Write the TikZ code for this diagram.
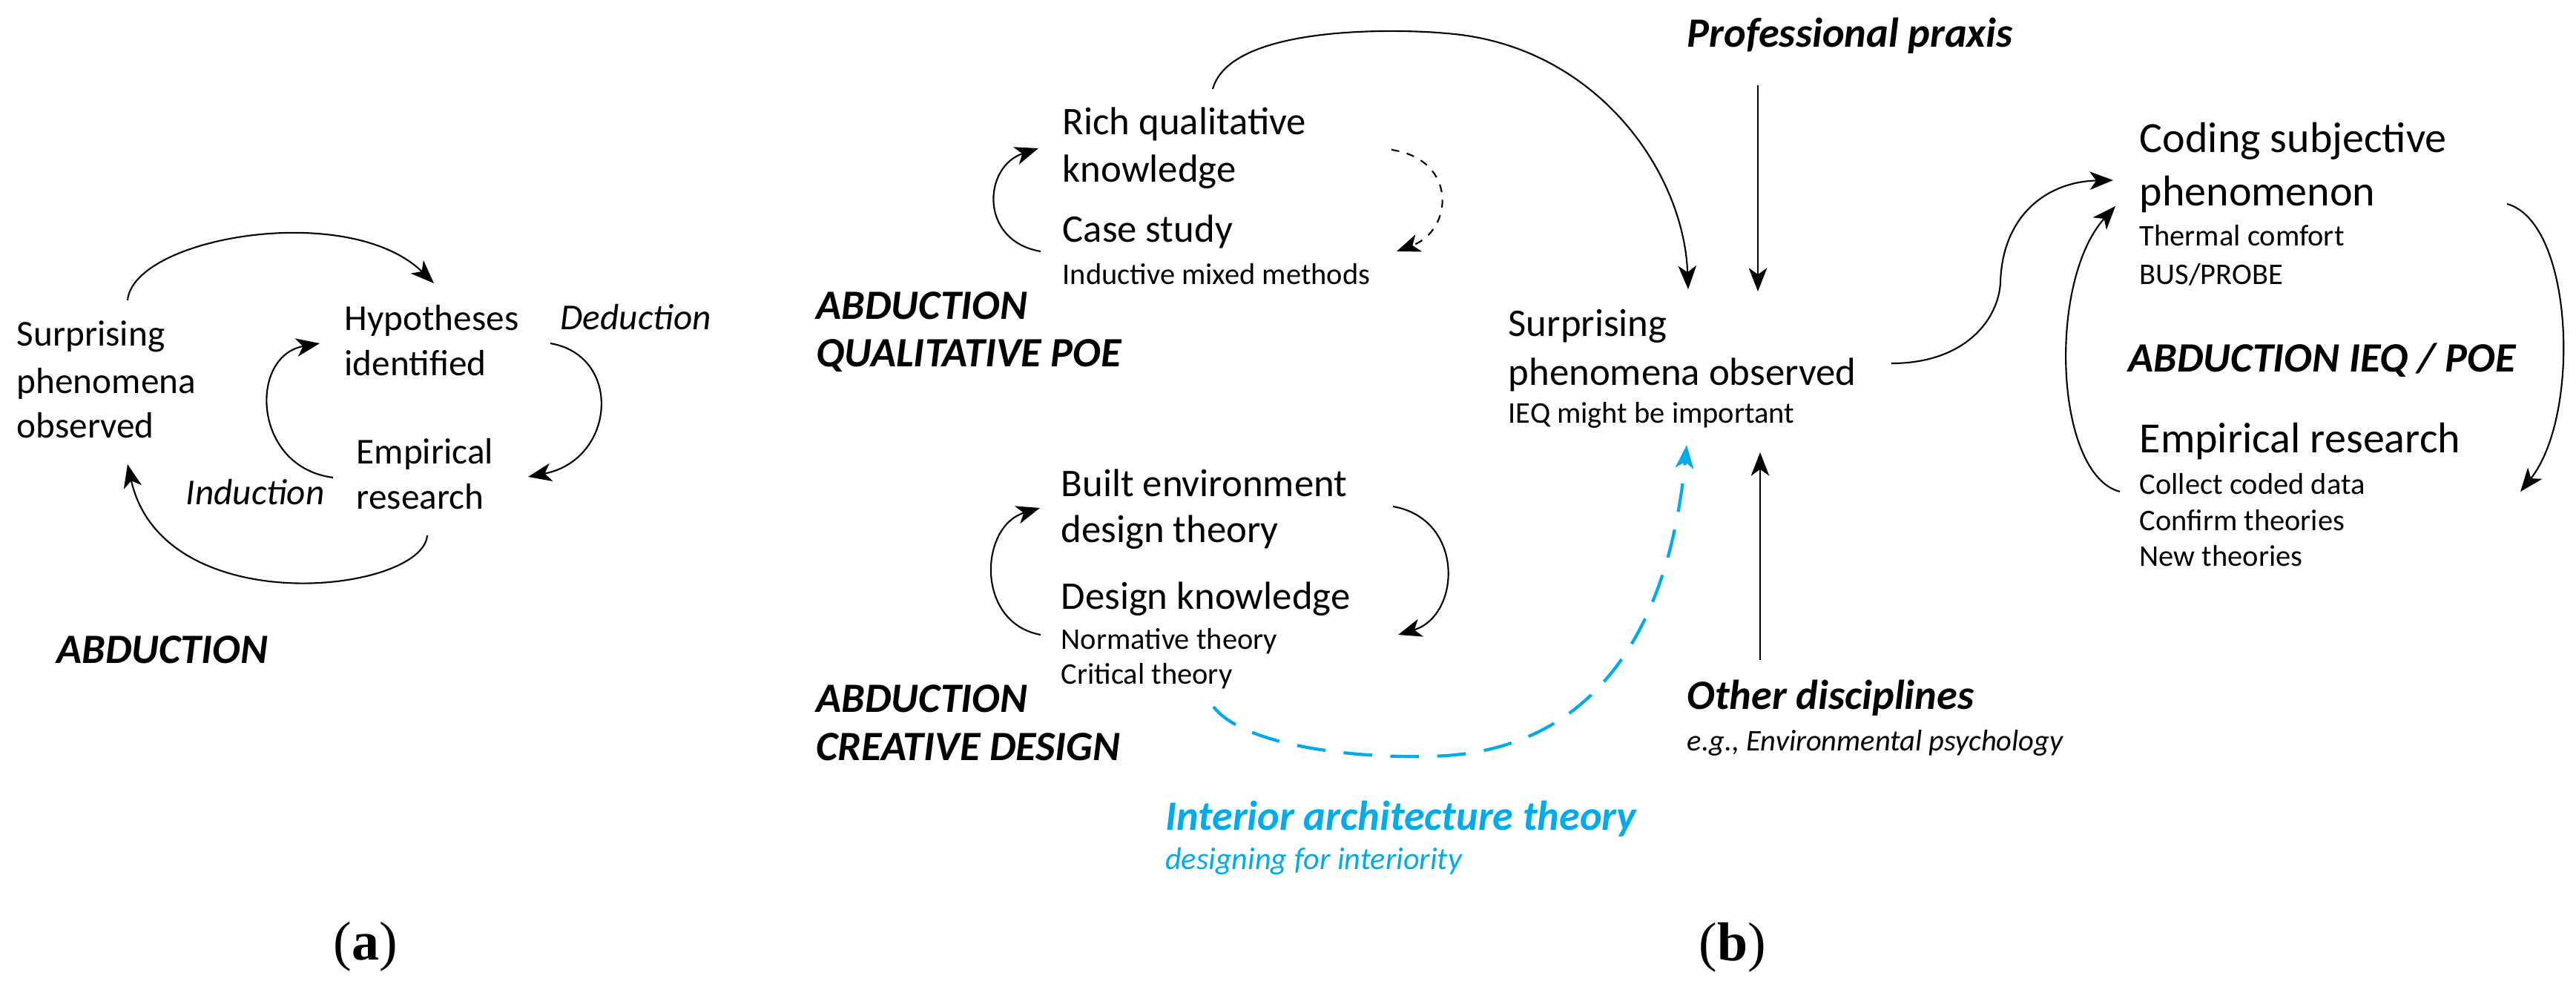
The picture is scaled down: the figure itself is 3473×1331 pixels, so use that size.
\documentclass[tikz,border=0pt]{standalone}
\usepackage{fontspec}
\setmainfont{Carlito}
\newfontfamily\capfont{Liberation Serif}
\usetikzlibrary{arrows.meta}
\definecolor{iblue}{RGB}{0,170,235}
\begin{document}
\begin{tikzpicture}[x=0.01cm,y=-0.01cm,
  ta/.style={anchor=west,inner sep=0pt,font=\fontsize{14}{16}\selectfont},
  ia/.style={anchor=west,inner sep=0pt,font=\fontsize{14}{16}\selectfont\itshape},
  t/.style={anchor=west,inner sep=0pt,font=\fontsize{15}{17}\selectfont},
  tb/.style={anchor=west,inner sep=0pt,font=\fontsize{16.5}{19}\selectfont},
  ts/.style={anchor=west,inner sep=0pt,font=\fontsize{11.5}{13}\selectfont},
  lab/.style={anchor=west,inner sep=0pt,font=\fontsize{16}{18}\selectfont\bfseries\itshape},
  capt/.style={inner sep=0pt,font=\fontsize{21}{24}\selectfont\capfont},
  ar/.style={line width=0.6pt,-{Stealth[length=9pt,width=7pt,inset=2.5pt]}},
  ]
\useasboundingbox (0,0) rectangle (3473,1331);
% ---------- (a)
\node[ta] (s1) at (22,454) {Surprising};
\node[ta] (s2) at (22,517) {phenomena};
\node[ta] (s3) at (22,574) {observed};
\node[ta] (h1) at (464,432) {Hypotheses};
\node[ta] (h2) at (464,490) {identified};
\node[ia] (ded) at (755,428) {Deduction};
\node[ta] (e1) at (480,612) {Empirical};
\node[ta] (e2) at (480,670) {research};
\node[ia] (ind) at (250,664) {Induction};
\node[lab] (abA) at (76,876) {ABDUCTION};
\node[capt] (ca) at (493,1277) {(\textbf{a})};
\coordinate (a1s) at (172,405); \coordinate (a1e) at (585,382);
\coordinate (a2s) at (449,644); \coordinate (a2e) at (431,463);
\coordinate (a3s) at (742,463); \coordinate (a3e) at (712,643);
\coordinate (a4s) at (576,722); \coordinate (a4e) at (172,626);
\draw[ar] (a1s) .. controls (180,320) and (470,270) .. (a1e);
\draw[ar] (a2s) .. controls (340,630) and (335,480) .. (a2e);
\draw[ar] (a3s) .. controls (840,480) and (830,620) .. (a3e);
\draw[ar] (a4s) .. controls (570,800) and (220,840) .. (a4e);
% ---------- (b) left column
\node[t] (r1) at (1432,167) {Rich qualitative};
\node[t] (r2) at (1432,232) {knowledge};
\node[t] (cs) at (1432,312) {Case study};
\node[ts] (im) at (1432,370) {Inductive mixed methods};
\node[lab] (ab1) at (1100,412) {ABDUCTION};
\node[lab] (ab2) at (1100,480) {QUALITATIVE POE};
\node[t] (b1) at (1430,651) {Built environment};
\node[t] (b2) at (1430,718) {design theory};
\node[t] (dk) at (1430,808) {Design knowledge};
\node[ts] (nt) at (1430,865) {Normative theory};
\node[ts] (ct) at (1430,912) {Critical theory};
\node[lab] (ab3) at (1100,942) {ABDUCTION};
\node[lab] (ab4) at (1100,1007) {CREATIVE DESIGN};
\coordinate (q1s) at (1403,339); \coordinate (q1e) at (1400,200);
\coordinate (q2s) at (1876,202); \coordinate (q2e) at (1883,339);
\coordinate (d1s) at (1403,856); \coordinate (d1e) at (1402,685);
\coordinate (d2s) at (1878,683); \coordinate (d2e) at (1885,856);
\draw[ar] (q1s) .. controls (1320,325) and (1325,225) .. (q1e);
\draw[ar,dashed] (q2s) .. controls (1965,215) and (1960,310) .. (q2e);
\draw[ar] (d1s) .. controls (1315,840) and (1320,710) .. (d1e);
\draw[ar] (d2s) .. controls (1975,700) and (1970,830) .. (d2e);
% ---------- (b) centre
\node[lab] (pp) at (2274,48) {Professional praxis};
\node[t] (sp1) at (2033,440) {Surprising};
\node[t] (sp2) at (2033,505) {phenomena observed};
\node[ts] (ieq) at (2033,560) {IEQ might be important};
\node[lab] (od) at (2274,941) {Other disciplines};
\node[ts,font=\fontsize{11.5}{13}\selectfont\itshape] (ep) at (2274,1002) {e.g., Environmental psychology};
\node[lab,text=iblue,anchor=east] (iat) at (2207,1104) {Interior architecture theory};
\node[ts,text=iblue,font=\fontsize{12}{14}\selectfont\itshape] (dfi) at (iat.west |- 0,1161) {designing for interiority};
\node[capt] (cb) at (2336,1278) {(\textbf{b})};
\coordinate (p1s) at (2370,115); \coordinate (p1e) at (2370,393);
\coordinate (o1s) at (2373,890); \coordinate (o1e) at (2373,610);
\coordinate (bigs) at (1635,120); \coordinate (bige) at (2276,390);
\coordinate (blus) at (1636,953); \coordinate (blue) at (2274,600);
\draw[ar] (p1s) -- (p1e);
\draw[ar] (o1s) -- (o1e);
\draw[ar] (bigs) .. controls (1660,30) and (1900,40) .. (1950,45) .. controls (2150,60) and (2270,230) .. (bige);
\draw[ar,iblue,line width=1.2pt,dash pattern=on 11pt off 7pt] (blus) .. controls (1680,1010) and (1850,1025) .. (1950,1019) .. controls (2150,1005) and (2250,850) .. (blue);
% ---------- (b) right
\node[tb] (c1) at (2884,190) {Coding subjective};
\node[tb] (c2) at (2884,262) {phenomenon};
\node[ts] (tc) at (2884,318) {Thermal comfort};
\node[ts] (bp) at (2884,370) {BUS/PROBE};
\node[lab] (ab5) at (2869,486) {ABDUCTION IEQ / POE};
\node[tb] (er) at (2884,595) {Empirical research};
\node[ts] (cc) at (2884,653) {Collect coded data};
\node[ts] (cf) at (2884,702) {Confirm theories};
\node[ts] (nw) at (2884,750) {New theories};
\coordinate (xs) at (2550,490); \coordinate (xe) at (2849,243);
\coordinate (ls) at (2858,663); \coordinate (le) at (2852,278);
\coordinate (rs) at (3380,275); \coordinate (re) at (3398,663);
\draw[ar] (xs) .. controls (2650,490) and (2695,430) .. (2697,380) .. controls (2700,290) and (2760,245) .. (xe);
\draw[ar] (ls) .. controls (2770,640) and (2760,380) .. (le);
\draw[ar] (rs) .. controls (3470,300) and (3480,560) .. (re);
\end{tikzpicture}
\end{document}
